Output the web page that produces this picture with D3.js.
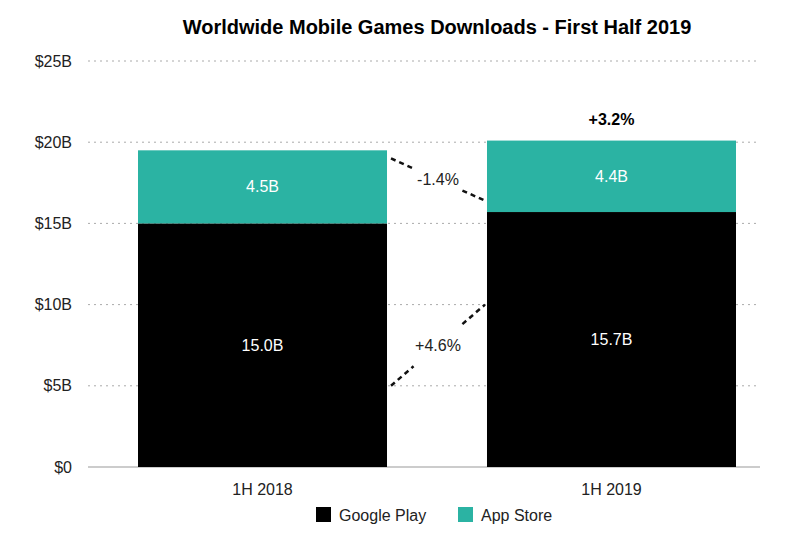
<!DOCTYPE html>
<html>
<head>
<meta charset="utf-8">
<style>
  body { margin: 0; background: #fff; }
  svg { display: block; font-family: "Liberation Sans", Arial, sans-serif; }
</style>
</head>
<body>
<svg id="canvas" width="790" height="536"></svg>
<script src="https://d3js.org/d3.v7.min.js"></script>
<script>
  const periods = ["1H 2018", "1H 2019"];
  const googlePlay = [15.0, 15.7];
  const appStore = [4.5, 4.4];
  const yTicks = [0, 5, 10, 15, 20, 25];
  const totalChange = "+3.2%";
  // connector lines: [value at left bar edge, value at right bar edge, label]
  const connectors = [
    { from: 19.0, to: 16.4, label: "-1.4%" },
    { from: 5.0, to: 10.0, label: "+4.6%" }
  ];

  const colors = { gp: "#000000", as: "#2bb3a3" };
  const m = { top: 61, right: 30, bottom: 69, left: 88 };
  const W = 790, H = 536;
  const svg = d3.select("#canvas");
  const g = svg.append("g").attr("transform", `translate(${m.left},${m.top})`);
  const w = W - m.left - m.right, h = H - m.top - m.bottom;

  const x = d3.scaleBand().domain(periods).range([50, 648]).paddingInner(0.2865).paddingOuter(0);
  const y = d3.scaleLinear().domain([0, 25]).range([h, 0]);

  svg.append("text").attr("x", 437).attr("y", 34).attr("text-anchor", "middle")
    .attr("font-size", 20).attr("font-weight", "bold").text("Worldwide Mobile Games Downloads - First Half 2019");

  g.selectAll(".grid").data(yTicks.filter(d => d > 0)).enter().append("line")
    .attr("x1", 0).attr("x2", w).attr("y1", d => y(d)).attr("y2", d => y(d))
    .attr("stroke", "#aaa").attr("stroke-dasharray", "2,4");
  g.append("line").attr("x1", 0).attr("x2", w).attr("y1", h).attr("y2", h).attr("stroke", "#999");

  g.selectAll(".yl").data(yTicks).enter().append("text")
    .attr("x", -16).attr("y", d => y(d)).attr("dy", "0.35em").attr("text-anchor", "end")
    .attr("font-size", 16).attr("fill", "#222").text(d => d === 0 ? "$0" : "$" + d + "B");

  periods.forEach((p, i) => {
    const x0 = x(p), bw = x.bandwidth();
    g.append("rect").attr("x", x0).attr("width", bw).attr("y", y(googlePlay[i])).attr("height", y(0) - y(googlePlay[i])).attr("fill", colors.gp);
    g.append("rect").attr("x", x0).attr("width", bw).attr("y", y(googlePlay[i] + appStore[i])).attr("height", y(0) - y(appStore[i])).attr("fill", colors.as);
    g.append("text").attr("x", x0 + bw / 2).attr("y", y(googlePlay[i] / 2)).attr("dy", "0.35em").attr("text-anchor", "middle")
      .attr("fill", "#fff").attr("font-size", 16).text(googlePlay[i].toFixed(1) + "B");
    g.append("text").attr("x", x0 + bw / 2).attr("y", y(googlePlay[i] + appStore[i] / 2)).attr("dy", "0.35em").attr("text-anchor", "middle")
      .attr("fill", "#fff").attr("font-size", 16).text(appStore[i].toFixed(1) + "B");
    g.append("text").attr("x", x0 + bw / 2).attr("y", h + 28).attr("text-anchor", "middle")
      .attr("font-size", 16).attr("fill", "#222").text(p);
  });

  g.append("text").attr("x", x(periods[1]) + x.bandwidth() / 2).attr("y", y(googlePlay[1] + appStore[1]) - 16)
    .attr("text-anchor", "middle").attr("font-size", 16).attr("font-weight", "bold").text(totalChange);

  const xa = x(periods[0]) + x.bandwidth() + 4, xb = x(periods[1]) - 2;
  connectors.forEach(c => {
    const ya = y(c.from), yb = y(c.to);
    const xm = (xa + xb) / 2, ym = (ya + yb) / 2;
    const t = 0.26;
    [[0, 0.5 - t], [0.5 + t, 1]].forEach(([s, e]) => {
      g.append("line")
        .attr("x1", xa + (xb - xa) * s).attr("y1", ya + (yb - ya) * s)
        .attr("x2", xa + (xb - xa) * e).attr("y2", ya + (yb - ya) * e)
        .attr("stroke", "#111").attr("stroke-width", 2.5).attr("stroke-dasharray", "5,4");
    });
    g.append("text").attr("x", xm).attr("y", ym).attr("dy", "0.35em").attr("text-anchor", "middle")
      .attr("font-size", 16).attr("fill", "#222").text(c.label);
  });

  const legend = [["Google Play", colors.gp, 316], ["App Store", colors.as, 458]];
  legend.forEach(([name, col, lx]) => {
    svg.append("rect").attr("x", lx).attr("y", 507).attr("width", 15).attr("height", 15).attr("fill", col);
    svg.append("text").attr("x", lx + 23).attr("y", 515).attr("dy", "0.35em").attr("font-size", 16).attr("fill", "#222").text(name);
  });
</script>
</body>
</html>
